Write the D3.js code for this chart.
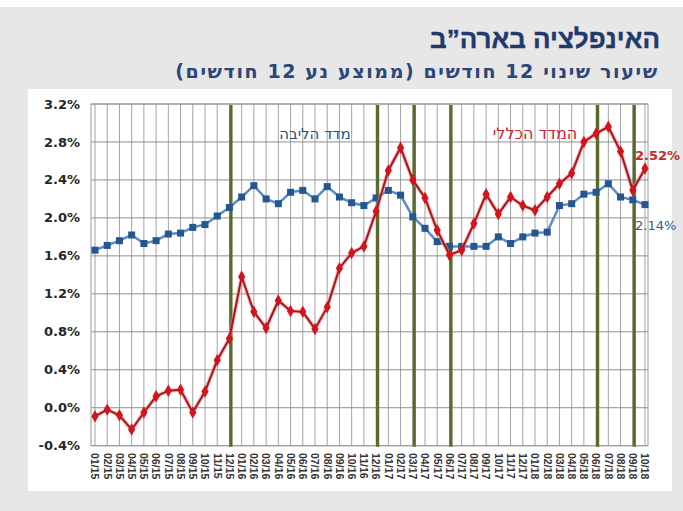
<!DOCTYPE html>
<html>
<head>
<meta charset="utf-8">
<script src="https://cdn.jsdelivr.net/npm/d3@7"></script>
<style>
html,body{margin:0;padding:0;background:#fff;}
svg{display:block;}
</style>
</head>
<body>
<svg id="chart" width="683" height="511"></svg>
<script>
const months = ["01/15","02/15","03/15","04/15","05/15","06/15","07/15","08/15","09/15","10/15","11/15","12/15",
"01/16","02/16","03/16","04/16","05/16","06/16","07/16","08/16","09/16","10/16","11/16","12/16",
"01/17","02/17","03/17","04/17","05/17","06/17","07/17","08/17","09/17","10/17","11/17","12/17",
"01/18","02/18","03/18","04/18","05/18","06/18","07/18","08/18","09/18","10/18"];

const headline = [-0.09,-0.02,-0.08,-0.23,-0.05,0.12,0.18,0.19,-0.05,0.17,0.50,0.73,
1.38,1.01,0.84,1.13,1.02,1.01,0.83,1.06,1.47,1.63,1.70,2.07,
2.50,2.74,2.40,2.21,1.87,1.61,1.66,1.94,2.25,2.04,2.22,2.13,
2.08,2.22,2.36,2.47,2.80,2.89,2.96,2.70,2.29,2.52];

const core = [1.66,1.71,1.76,1.82,1.73,1.76,1.83,1.84,1.90,1.93,2.02,2.11,
2.22,2.34,2.20,2.15,2.27,2.29,2.20,2.33,2.22,2.16,2.13,2.21,
2.29,2.24,2.01,1.89,1.75,1.70,1.70,1.70,1.70,1.80,1.73,1.80,
1.84,1.85,2.13,2.15,2.25,2.27,2.36,2.22,2.19,2.14];

const yTicks = [-0.4,0.0,0.4,0.8,1.2,1.6,2.0,2.4,2.8,3.2];
const rateHikes = ["12/15","12/16","03/17","06/17","06/18","09/18"];

const title = "האינפלציה בארה”ב";
const subtitle = "שיעור שינוי 12 חודשים (ממוצע נע 12 חודשים)";
const headlineName = "המדד הכללי";
const coreName = "מדד הליבה";

const svg = d3.select("#chart");
const font = "'Liberation Sans', Arial, sans-serif";
const wide = "'DejaVu Sans', Verdana, sans-serif";

// backgrounds
svg.append("rect").attr("x",0).attr("y",7).attr("width",683).attr("height",504).attr("fill","#e7e7e7");
svg.append("rect").attr("x",28).attr("y",89).attr("width",644).attr("height",402).attr("fill","#ffffff");

const x = d3.scalePoint().domain(months).range([95,645]);
const y = d3.scaleLinear().domain([-0.4,3.2]).range([445.7,104]);

// titles
svg.append("text").attr("x",545).attr("y",48).attr("direction","rtl")
  .attr("text-anchor","middle").attr("font-family",font).attr("font-weight","bold")
  .attr("font-size",26).attr("fill","#1f3a6b").attr("stroke","#1f3a6b").attr("stroke-width",0.4)
  .text(title);
svg.append("text").attr("x",417).attr("y",78).attr("direction","rtl")
  .attr("text-anchor","middle").attr("font-family",wide).attr("font-weight","bold")
  .attr("font-size",19).attr("letter-spacing",1.6).attr("fill","#2c467a").text(subtitle);

// grid
const g = svg.append("g");
g.selectAll("line.v").data(months).join("line")
  .attr("x1",d=>x(d)).attr("x2",d=>x(d)).attr("y1",y(3.2)).attr("y2",y(-0.4))
  .attr("stroke","#a3a3a3").attr("stroke-width",1);
g.selectAll("line.h").data(yTicks).join("line")
  .attr("x1",91).attr("x2",648).attr("y1",d=>y(d)).attr("y2",d=>y(d))
  .attr("stroke","#8f8f8f").attr("stroke-width",1);
g.append("rect").attr("x",91).attr("y",y(3.2)).attr("width",557).attr("height",y(-0.4)-y(3.2))
  .attr("fill","none").attr("stroke","#9a9a9a").attr("stroke-width",1);

// y axis labels
svg.append("g").selectAll("text").data(yTicks).join("text")
  .attr("x",80).attr("y",d=>y(d)).attr("dy","0.35em").attr("text-anchor","end")
  .attr("font-family",wide).attr("font-weight","bold").attr("font-size",13).attr("fill","#262626")
  .text(d=>d.toFixed(1)+"%");

// x axis labels
svg.append("g").selectAll("text").data(months).join("text")
  .attr("transform",d=>`translate(${x(d)},453) rotate(90)`).attr("dy","0.35em")
  .attr("text-anchor","start").attr("font-family",font).attr("font-weight","bold")
  .attr("font-size",10.5).attr("fill","#333").text(d=>d);

// rate hike lines
svg.append("g").selectAll("line").data(rateHikes).join("line")
  .attr("x1",d=>x(d)+1.5).attr("x2",d=>x(d)+1.5).attr("y1",y(3.2)+1).attr("y2",y(-0.4)+1)
  .attr("stroke","#5a6a2c").attr("stroke-width",3.2);

// lines
const line = d3.line().x((d,i)=>x(months[i])).y(d=>y(d));
svg.append("path").datum(core).attr("d",line).attr("fill","none")
  .attr("stroke","#5b8cc4").attr("stroke-width",2.5);
svg.append("g").selectAll("rect").data(core).join("rect")
  .attr("x",(d,i)=>x(months[i])-3.5).attr("y",d=>y(d)-3.5).attr("width",7).attr("height",7)
  .attr("fill","#24578f");

svg.append("path").datum(headline).attr("d",line).attr("fill","none")
  .attr("stroke","#f08a8a").attr("stroke-width",4).attr("opacity",0.6);
svg.append("path").datum(headline).attr("d",line).attr("fill","none")
  .attr("stroke","#a5161c").attr("stroke-width",2);
const diamond = d3.symbol().type(d3.symbolDiamond).size(45);
svg.append("g").selectAll("path").data(headline).join("path")
  .attr("transform",(d,i)=>`translate(${x(months[i])},${y(d)})`).attr("d",diamond)
  .attr("fill","#d4141c");

// annotations
svg.append("text").attr("x",x("07/16")).attr("y",y(2.83)).attr("direction","rtl")
  .attr("text-anchor","middle").attr("font-family",wide).attr("font-size",15)
  .attr("fill","#2b4d7e").text(coreName);
svg.append("text").attr("x",x("01/18")).attr("y",y(2.83)).attr("direction","rtl")
  .attr("text-anchor","middle").attr("font-family",wide).attr("font-size",16)
  .attr("fill","#c0282d").text(headlineName);
svg.append("text").attr("x",x("10/18")-10).attr("y",y(headline[45])-9).attr("text-anchor","start")
  .attr("font-family",wide).attr("font-weight","bold").attr("font-size",13)
  .attr("fill","#c0282d").text(headline[45].toFixed(2)+"%");
svg.append("text").attr("x",x("10/18")-10).attr("y",y(core[45])+25).attr("text-anchor","start")
  .attr("font-family",wide).attr("font-size",13)
  .attr("fill","#2b5d8e").text(core[45].toFixed(2)+"%");
</script>
</body>
</html>
